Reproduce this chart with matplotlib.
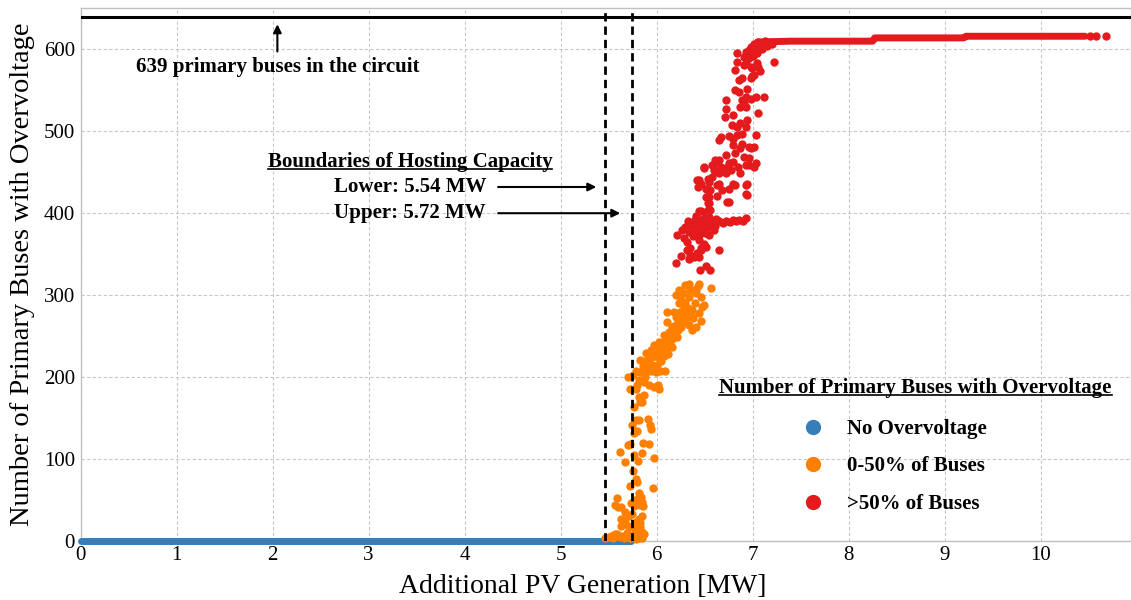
import matplotlib
matplotlib.use('Agg')
import matplotlib.pyplot as plt
from matplotlib.lines import Line2D

plt.rcParams['font.family'] = ['Liberation Serif', 'DejaVu Serif']

# colours (Set1)
c_blue = '#377eb8'
c_orange = '#ff7f00'
c_red = '#e41a1c'

total_buses = 639
hc_lower = 5.46   # position of dashed lines as drawn
hc_upper = 5.74

# no overvoltage: dense run of points on zero
blue_x = [0.0, 0.5, 1.0, 1.5, 2.0, 2.5, 3.0, 3.5, 4.0, 4.5, 5.0, 5.5, 5.73]
blue_y = [0, 0, 0, 0, 0, 0, 0, 0, 0, 0, 0, 0, 0]

# 0-50% of buses
orange_x = [5.46, 5.50, 5.52, 5.55, 5.57, 5.59, 5.62, 5.64, 5.66, 5.69, 5.72, 5.75, 5.78, 5.82, 5.85, 5.56,
            5.78, 5.83, 5.87, 5.85, 5.82, 5.77, 5.71, 5.83, 5.63, 5.68, 5.66, 5.63, 5.83, 5.82, 5.78, 5.85,
            5.71, 5.74, 5.67, 5.60, 5.63, 5.57, 5.59, 5.76, 5.73, 5.86, 5.83, 5.85, 5.80, 5.84, 5.82, 5.96,
            5.72, 5.80, 5.78, 5.75, 5.67, 5.81, 5.97, 5.76, 5.85, 5.62, 5.70, 5.72, 5.86, 5.92, 5.76, 5.80,
            5.94, 5.74, 5.93, 5.82, 5.79, 5.91, 5.76, 5.85, 5.83, 5.82, 5.87,
            5.70, 5.75, 5.78, 5.83, 5.88, 5.94, 5.99, 6.04, 6.09, 5.82, 5.87, 5.92, 5.97, 6.01, 6.02, 5.83,
            5.87, 5.92, 5.89, 5.94, 5.99, 6.02, 5.97, 6.02, 6.06, 6.09, 6.13, 6.16, 6.08, 6.13, 6.18, 6.21,
            6.16, 6.21, 6.25, 6.27, 6.20, 6.30, 6.34, 6.37, 6.41, 6.32, 6.37, 6.44, 6.46, 6.23, 6.30, 6.34,
            6.41, 6.46, 6.35, 6.30, 6.34, 6.41, 6.44, 6.49, 6.47, 6.11, 6.18, 6.11, 6.20, 6.27, 6.25, 6.57,
            6.23, 6.43, 6.05, 6.10, 6.15, 6.20, 6.25, 6.28, 6.00, 5.95, 6.05, 6.12, 6.18, 6.24, 6.28, 6.38,
            6.40, 5.90, 5.86, 5.80, 5.78, 5.72, 5.95, 6.07, 6.14, 6.22, 6.31, 6.36, 6.03, 5.98, 6.17, 6.26,
            6.33, 5.88, 5.91, 6.08, 6.22]
orange_y = [3, 5, 6, 4, 8, 9, 5, 6, 3, 10, 4, 7, 2, 4, 3, 7,
            9, 7, 9, 11, 13, 15, 17, 17, 18, 21, 25, 27, 22, 27, 23, 31,
            31, 33, 35, 41, 41, 44, 52, 42, 46, 42, 44, 48, 51, 54, 58, 64,
            67, 72, 76, 85, 96, 98, 101, 105, 107, 109, 117, 118, 119, 118, 132, 134,
            136, 141, 141, 147, 147, 149, 164, 170, 170, 176, 178,
            200, 202, 208, 206, 204, 208, 206, 208, 208, 196, 194, 190, 188, 190, 186, 221,
            219, 223, 229, 233, 229, 223, 239, 243, 237, 245, 241, 237, 251, 255, 253, 249,
            261, 265, 261, 269, 273, 267, 263, 257, 261, 278, 282, 278, 269, 290, 290, 298,
            302, 298, 306, 312, 314, 308, 314, 288, 286, 280, 280, 267, 300, 302, 294, 309,
            306, 311, 230, 235, 245, 255, 270, 275, 215, 215, 220, 228, 262, 280, 285, 272,
            290, 212, 213, 190, 186, 185, 225, 240, 250, 258, 272, 276, 236, 226, 248, 266,
            284, 200, 216, 226, 262]

# >50% of buses, scattered part
red_x = [6.20, 6.25, 6.34, 6.35, 6.39, 6.44, 6.42, 6.46, 6.45, 6.51, 6.56, 6.65, 6.21, 6.32, 6.35, 6.32,
         6.44, 6.49, 6.46, 6.51, 6.54, 6.44,
         6.30, 6.37, 6.44, 6.51, 6.58, 6.65, 6.72, 6.79, 6.86, 6.93, 6.34, 6.41, 6.47, 6.54, 6.61, 6.26,
         6.33, 6.40, 6.48, 6.55, 6.62, 6.69, 6.76, 6.83, 6.90, 6.28, 6.38, 6.50, 6.60,
         6.44, 6.51, 6.56, 6.53, 6.54, 6.51, 6.56, 6.46, 6.42, 6.53, 6.65, 6.75, 6.68, 6.73, 6.63, 6.82,
         6.93, 6.94, 6.87, 6.96, 7.01, 6.85, 6.77, 6.72, 6.67, 6.61, 6.58, 6.75, 6.49, 6.58, 6.54, 6.44,
         6.43, 6.53, 6.63, 6.80, 6.94, 6.93, 6.51, 6.54, 6.75, 6.46, 6.53, 6.41,
         6.84, 6.84, 6.82, 6.86, 6.93, 6.96, 6.91, 6.99, 7.06, 7.08, 6.98, 7.01, 6.94, 7.22, 6.82, 6.89,
         6.93, 6.91, 6.98, 7.03, 7.12, 7.06, 6.87, 6.93, 6.72, 6.72, 6.71, 6.80, 6.78, 6.84, 6.87, 6.93,
         6.89, 6.84, 6.79, 6.67, 6.65, 6.80, 6.89, 6.87, 6.98, 7.01, 6.82, 6.91, 6.96, 6.93, 6.80, 6.72,
         6.65, 6.61, 6.60, 6.65, 6.72,
         6.91, 6.94, 6.96, 6.98, 7.01, 7.06, 7.13, 6.93, 6.98, 7.05, 6.89, 6.99, 6.86, 6.94, 7.03, 6.75,
         6.96, 6.61, 6.49, 7.03, 7.00, 7.03, 7.08, 7.10, 7.15, 7.20, 7.00, 7.05]
red_y = [339, 348, 344, 349, 347, 346, 352, 355, 331, 335, 331, 355, 374, 365, 358, 355,
         367, 363, 358, 359, 373, 373,
         383, 385, 388, 388, 390, 390, 391, 392, 392, 394, 377, 379, 381, 383, 384, 380,
         390, 392, 393, 395, 393, 388, 389, 390, 391, 370, 372, 376, 380,
         403, 398, 404, 412, 420, 430, 428, 436, 440, 442, 436, 430, 428, 414, 421, 435,
         434, 422, 449, 459, 457, 456, 453, 449, 457, 451, 459, 461, 455, 444, 438, 440,
         432, 430, 434, 436, 436, 424, 420, 412, 414, 403, 404, 396,
         595, 585, 575, 563, 597, 589, 581, 577, 579, 573, 565, 569, 552, 584, 550, 538,
         542, 534, 540, 542, 542, 522, 530, 530, 538, 527, 517, 520, 508, 505, 510, 505,
         497, 495, 491, 493, 489, 483, 485, 479, 479, 481, 473, 469, 467, 459, 462, 471,
         465, 461, 453, 449, 455,
         591, 595, 599, 603, 607, 609, 610, 583, 579, 583, 565, 567, 548, 514, 495, 494,
         481, 465, 457, 461, 600, 603, 605, 600, 604, 606, 592, 596]

# >50% of buses, dense plateau
plateau_x = [7.05, 7.4, 7.8, 8.25, 8.27, 8.7, 9.2, 9.22, 9.8, 10.46]
plateau_y = [609, 610, 610, 610, 614, 614, 614, 616, 616, 616]
tail_x = [10.51, 10.58, 10.68]
tail_y = [616, 616, 616]

fig = plt.figure(figsize=(11.31, 6), dpi=100)
ax = fig.add_axes([0.0712, 0.0985, 0.9288, 0.8875])

ax.plot(blue_x, blue_y, color=c_blue, lw=5, solid_capstyle='round', clip_on=False, zorder=3)
ax.scatter(orange_x, orange_y, s=36, color=c_orange, linewidths=0, zorder=3, clip_on=False)
ax.scatter(red_x, red_y, s=36, color=c_red, linewidths=0, zorder=4)
ax.plot(plateau_x, plateau_y, color=c_red, lw=5, solid_capstyle='round', zorder=4)
ax.scatter(tail_x, tail_y, s=36, color=c_red, linewidths=0, zorder=4)

ax.axhline(total_buses, color='black', lw=2.2, zorder=5)
ax.axvline(hc_lower, color='black', lw=2, ls=(0, (3, 1.8)), zorder=5)
ax.axvline(hc_upper, color='black', lw=2, ls=(0, (3, 1.8)), zorder=5)

ax.set_xlim(0, 10.94)
ax.set_ylim(0, 650)
ax.set_xticks(range(0, 11))
ax.set_yticks(range(0, 700, 100))
ax.grid(True, color='#c8c8c8', lw=0.8, ls=(0, (3, 2)))
ax.set_axisbelow(True)
for s in ax.spines.values():
    s.set_color('#c0c0c0')
    s.set_linewidth(1)
ax.tick_params(length=0, labelsize=15, pad=4)
ax.set_xlabel('Additional PV Generation [MW]', fontsize=20, labelpad=4)
ax.xaxis.set_label_coords(0.478, -0.062)
ax.set_ylabel('Number of Primary Buses with Overvoltage', fontsize=20.5, labelpad=6)

bold = dict(fontsize=15, fontweight='bold')

# top annotation
ax.text(2.05, 579, '639 primary buses in the circuit', ha='center', va='center', **bold)
ax.annotate('', xy=(2.05, 634), xytext=(2.05, 594),
            arrowprops=dict(arrowstyle='-|>', color='black', lw=1.5, mutation_scale=12))

# hosting capacity boundaries
t_hc = ax.text(3.43, 462, 'Boundaries of Hosting Capacity', ha='center', va='center', **bold)
ax.text(3.43, 432, 'Lower: 5.54 MW', ha='center', va='center', **bold)
ax.text(3.43, 400, 'Upper: 5.72 MW', ha='center', va='center', **bold)
ax.annotate('', xy=(5.40, 432), xytext=(4.32, 432),
            arrowprops=dict(arrowstyle='-|>', color='black', lw=1.5, mutation_scale=12))
ax.annotate('', xy=(5.65, 400), xytext=(4.32, 400),
            arrowprops=dict(arrowstyle='-|>', color='black', lw=1.5, mutation_scale=12))

# legend
t_leg = ax.text(0.795, 0.287, 'Number of Primary Buses with Overvoltage', transform=ax.transAxes,
                ha='center', va='center', **bold)
handles = [Line2D([], [], ls='', marker='o', markersize=11, color=c, markeredgewidth=0)
           for c in (c_blue, c_orange, c_red)]
ax.legend(handles, ['No Overvoltage', '0-50% of Buses', '>50% of Buses'],
          loc='center left', bbox_to_anchor=(0.668, 0.140), frameon=False,
          prop=dict(size=15, weight='bold'), borderpad=0, handlelength=2,
          handletextpad=0.6, labelspacing=0.84)

# underline the two headings
fig.canvas.draw()
r = fig.canvas.get_renderer()
for t in (t_hc, t_leg):
    bb = t.get_window_extent(r)
    yy = (bb.y0 + 3) / fig.bbox.height
    fig.add_artist(Line2D([bb.x0 / fig.bbox.width, bb.x1 / fig.bbox.width], [yy, yy],
                          color='black', lw=1.2))

fig.savefig('out.png', dpi=100)
